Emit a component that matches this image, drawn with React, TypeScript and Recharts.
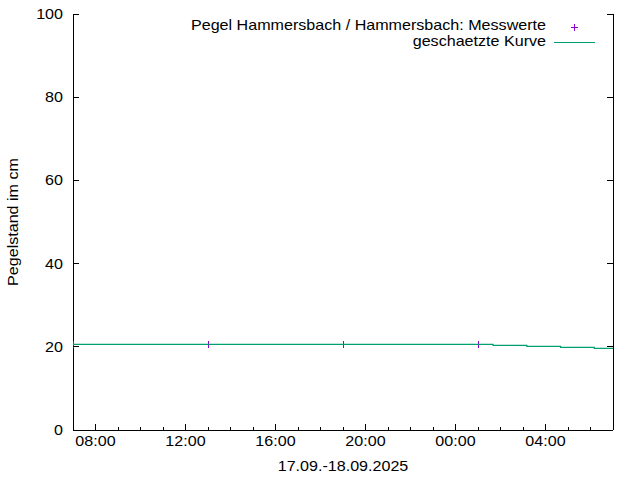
import React from "react";
import { ComposedChart, Line, Scatter, XAxis, YAxis, Legend } from "recharts";

// Zeit in Stunden ab 17.09. 00:00
const messZeit = [7, 13, 19, 25, 31];
const messWert = [20.6, 20.6, 20.6, 20.6, 19.6];
const kurveZeit = [7, 25.67, 27.17, 28.67, 30.17, 31];
const kurveWert = [20.6, 20.36, 20.12, 19.88, 19.64, 19.64];

const xMajorTicks = [8, 12, 16, 20, 24, 28];
const xTickLabels = ["08:00", "12:00", "16:00", "20:00", "00:00", "04:00"];
const xMinorTicks = Array.from({ length: 23 }, (_, i) => 8 + i);
const yTicks = [0, 20, 40, 60, 80, 100];

const xTitle = "17.09.-18.09.2025";
const yTitle = "Pegelstand im cm";
const messName = "Pegel Hammersbach / Hammersbach: Messwerte";
const kurveName = "geschaetzte Kurve";

const PURPLE = "#9400D3";
const GREEN = "#009E73";
const FONT = "'Liberation Sans', Arial, sans-serif";
const SX = 1.15; // gnuplot text is a bit wider than normal

const messData = messZeit.map((t, i) => ({ t, v: messWert[i] }));
const kurveData = kurveZeit.map((t, i) => ({ t, v: kurveWert[i] }));

const txt = { fontFamily: FONT, fontSize: 14, fill: "#000" };

const Txt = ({ x, y, anchor = "middle", rotate = 0, children }: any) => (
  <text
    transform={`translate(${x},${y}) rotate(${rotate}) scale(${SX},1)`}
    textAnchor={anchor}
    style={txt}
  >
    {children}
  </text>
);

const BottomTick = ({ x, y, payload }: any) => {
  const i = xMajorTicks.indexOf(payload.value);
  const major = i >= 0;
  return (
    <g>
      <line x1={x} x2={x} y1={y} y2={y - (major ? 6 : 3)} stroke="#000" shapeRendering="crispEdges" />
      {major && (
        <Txt x={x} y={y + 16}>
          {xTickLabels[i]}
        </Txt>
      )}
    </g>
  );
};

const TopTick = ({ x, y, payload }: any) => {
  const major = xMajorTicks.includes(payload.value);
  return (
    <line x1={x} x2={x} y1={y} y2={y + (major ? 6 : 3)} stroke="#000" shapeRendering="crispEdges" />
  );
};

const LeftTick = ({ x, y, payload }: any) => (
  <g>
    <line x1={x} x2={x + 6} y1={y} y2={y} stroke="#000" shapeRendering="crispEdges" />
    <Txt x={x - 10} y={y + 5} anchor="end">
      {payload.value}
    </Txt>
  </g>
);

const RightTick = ({ x, y }: any) => (
  <line x1={x} x2={x - 6} y1={y} y2={y} stroke="#000" shapeRendering="crispEdges" />
);

const Plus = ({ cx, cy }: any) => (
  <g stroke={PURPLE} strokeWidth={1} shapeRendering="crispEdges">
    <line x1={cx - 3.5} x2={cx + 3.5} y1={cy} y2={cy} />
    <line x1={cx} x2={cx} y1={cy - 3.5} y2={cy + 3.5} />
  </g>
);

const LegendBox = () => (
  <svg width={640} height={60}>
    <Txt x={546} y={30} anchor="end">
      {messName}
    </Txt>
    <Plus cx={574.5} cy={27.5} />
    <Txt x={546} y={46} anchor="end">
      {kurveName}
    </Txt>
    <line x1={554} x2={595} y1={42.5} y2={42.5} stroke={GREEN} strokeWidth={1} />
  </svg>
);

export default function App() {
  return (
    <div style={{ position: "absolute", left: 0, top: 0, width: 640, height: 480, background: "#fff" }}>
      <ComposedChart width={640} height={480} margin={{ top: 14, right: 0, bottom: 0, left: 0 }}>
        <XAxis
          xAxisId="b"
          type="number"
          dataKey="t"
          domain={[7, 31]}
          allowDataOverflow
          ticks={xMinorTicks}
          interval={0}
          height={50}
          tickSize={0}
          tickMargin={0}
          tickLine={false}
          axisLine={{ stroke: "#000", shapeRendering: "crispEdges" }}
          tick={<BottomTick />}
          label={(p: any) => (
            <Txt x={p.viewBox.x + p.viewBox.width / 2} y={p.viewBox.y + 41}>
              {xTitle}
            </Txt>
          )}
        />
        <XAxis
          xAxisId="top"
          orientation="top"
          type="number"
          domain={[7, 31]}
          allowDataOverflow
          ticks={xMinorTicks}
          interval={0}
          height={0}
          tickSize={0}
          tickMargin={0}
          tickLine={false}
          axisLine={{ stroke: "#000", shapeRendering: "crispEdges" }}
          tick={<TopTick />}
        />
        <YAxis
          yAxisId="l"
          type="number"
          dataKey="v"
          domain={[0, 100]}
          allowDataOverflow
          ticks={yTicks}
          interval={0}
          width={73}
          tickSize={0}
          tickMargin={0}
          tickLine={false}
          axisLine={{ stroke: "#000", shapeRendering: "crispEdges" }}
          tick={<LeftTick />}
          label={(p: any) => (
            <Txt x={18} y={p.viewBox.y + p.viewBox.height / 2} rotate={-90}>
              {yTitle}
            </Txt>
          )}
        />
        <YAxis
          yAxisId="r"
          orientation="right"
          type="number"
          domain={[0, 100]}
          allowDataOverflow
          ticks={yTicks}
          interval={0}
          width={27}
          tickSize={0}
          tickMargin={0}
          tickLine={false}
          axisLine={{ stroke: "#000", shapeRendering: "crispEdges" }}
          tick={<RightTick />}
        />
        <Legend
          layout="horizontal"
          verticalAlign="middle"
          align="center"
          wrapperStyle={{ position: "absolute", top: 0, left: 0, width: 640, height: 60 }}
          content={<LegendBox />}
        />
        <Scatter
          name={messName}
          data={messData}
          dataKey="v"
          xAxisId="b"
          yAxisId="l"
          fill={PURPLE}
          shape={<Plus />}
          zIndex={500}
          isAnimationActive={false}
        />
        <Line
          name={kurveName}
          data={kurveData}
          dataKey="v"
          xAxisId="b"
          yAxisId="l"
          type="stepAfter"
          stroke={GREEN}
          strokeWidth={1.2}
          dot={false}
          activeDot={false}
          zIndex={700}
          isAnimationActive={false}
        />
      </ComposedChart>
    </div>
  );
}
